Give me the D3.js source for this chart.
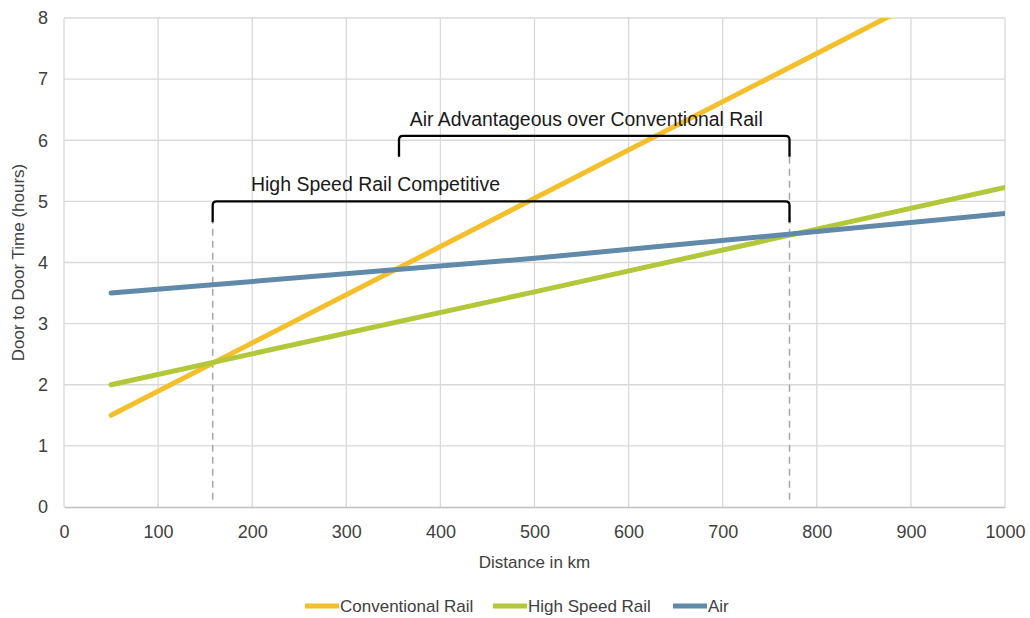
<!DOCTYPE html>
<html>
<head>
<meta charset="utf-8">
<script src="https://cdn.jsdelivr.net/npm/d3@7"></script>
<style>
  body { margin: 0; background: #fff; }
  svg text { font-family: "Liberation Sans", Arial, sans-serif; fill: #404040; }
</style>
</head>
<body>
<div id="chart"></div>
<script>
// data
const distance = [50, 500, 1000];
const conventionalRail = [1.5, 5.05, 9.0];
const highSpeedRail = [2.0, 3.52, 5.23];
const air = [3.5, 4.07, 4.8];

const seriesNames = ["Conventional Rail", "High Speed Rail", "Air"];
const seriesValues = [conventionalRail, highSpeedRail, air];
const seriesColors = ["#F4BF2A", "#B3C73A", "#6089AA"];

const xTicks = [0, 100, 200, 300, 400, 500, 600, 700, 800, 900, 1000];
const yTicks = [0, 1, 2, 3, 4, 5, 6, 7, 8];

// annotation brackets
const bracketLabels = ["High Speed Rail Competitive", "Air Advantageous over Conventional Rail"];
const bracketStart = [158, 356];
const bracketEnd = [771, 771];
const bracketLevel = [5.0, 6.07];
const bracketLabelAt = [331, 555];
const dashedAt = [158, 771];

var width = 1030, height = 618;
var margin = {top: 18, right: 25, bottom: 111, left: 64};

var svg = d3.select("#chart")
  .append("svg")
    .attr("width", width)
    .attr("height", height);

var x = d3.scaleLinear()
  .domain([0, 1000])
  .range([margin.left, width - margin.right]);

var y = d3.scaleLinear()
  .domain([0, 8])
  .range([height - margin.bottom, margin.top]);

// gridlines
svg.append("g")
  .selectAll("line")
  .data(yTicks.slice(1))
  .enter()
  .append("line")
    .attr("x1", x(0)).attr("x2", x(1000))
    .attr("y1", d => y(d)).attr("y2", d => y(d))
    .style("stroke", "#d9d9d9").style("stroke-width", 1.3);

svg.append("g")
  .selectAll("line")
  .data(xTicks)
  .enter()
  .append("line")
    .attr("x1", d => x(d)).attr("x2", d => x(d))
    .attr("y1", y(0)).attr("y2", y(8))
    .style("stroke", "#d9d9d9").style("stroke-width", 1.3);

// X axis
var xAxis = svg.append("g")
  .attr("transform", "translate(0," + y(0) + ")")
  .call(d3.axisBottom(x).tickValues(xTicks).tickFormat(d3.format("d")).tickSize(0).tickPadding(18));
xAxis.select(".domain").style("stroke", "#bfbfbf").style("stroke-width", 1.3);
xAxis.selectAll("text").style("font-size", "18px").style("fill", "#404040")
  .style("font-family", "'Liberation Sans', Arial, sans-serif");

// Y axis
var yAxis = svg.append("g")
  .attr("transform", "translate(" + x(0) + ",0)")
  .call(d3.axisLeft(y).tickValues(yTicks).tickSize(0).tickPadding(16));
yAxis.select(".domain").remove();
yAxis.selectAll("text").style("font-size", "18px").style("fill", "#404040")
  .style("font-family", "'Liberation Sans', Arial, sans-serif");

// axis titles
svg.append("text")
  .attr("x", (x(0) + x(1000)) / 2)
  .attr("y", 568)
  .attr("text-anchor", "middle")
  .style("font-size", "17px")
  .text("Distance in km");

svg.append("text")
  .attr("transform", "translate(24," + y(4) + ") rotate(-90)")
  .attr("text-anchor", "middle")
  .style("font-size", "17px")
  .text("Door to Door Time (hours)");

// dashed guides
svg.append("g")
  .selectAll("line")
  .data(dashedAt)
  .enter()
  .append("line")
    .attr("x1", d => x(d)).attr("x2", d => x(d))
    .attr("y1", y(0.12))
    .attr("y2", (d, i) => y(bracketLevel[i] - 0.34))
    .style("stroke", "#a6a6a6")
    .style("stroke-width", 1.5)
    .style("stroke-dasharray", "7,5");

// clip for lines
svg.append("clipPath").attr("id", "plot-clip")
  .append("rect")
    .attr("x", x(0)).attr("y", y(8))
    .attr("width", x(1000) - x(0)).attr("height", y(0) - y(8));

var line = d3.line()
  .x(d => x(d[0]))
  .y(d => y(d[1]));

svg.append("g")
  .attr("clip-path", "url(#plot-clip)")
  .selectAll("path")
  .data(seriesValues)
  .enter()
  .append("path")
    .attr("d", vals => line(distance.map((d, i) => [d, vals[i]])))
    .style("fill", "none")
    .style("stroke", (d, i) => seriesColors[i])
    .style("stroke-width", 5)
    .style("stroke-linecap", "round")
    .style("stroke-linejoin", "round");

// brackets
function bracketPath(i) {
  var x0 = x(bracketStart[i]), x1 = x(bracketEnd[i]);
  var top = y(bracketLevel[i]), bot = y(bracketLevel[i] - 0.34);
  var r = 4;
  return "M" + x0 + "," + bot + " L" + x0 + "," + (top + r) +
    " Q" + x0 + "," + top + " " + (x0 + r) + "," + top +
    " L" + (x1 - r) + "," + top +
    " Q" + x1 + "," + top + " " + x1 + "," + (top + r) +
    " L" + x1 + "," + bot;
}

svg.append("g")
  .selectAll("path")
  .data(bracketLabels)
  .enter()
  .append("path")
    .attr("d", (d, i) => bracketPath(i))
    .style("fill", "none")
    .style("stroke", "#000")
    .style("stroke-width", 2.3);

var labelWidths = [249, 353];
svg.append("g")
  .selectAll("text")
  .data(bracketLabels)
  .enter()
  .append("text")
    .attr("x", (d, i) => x(bracketLabelAt[i]) - labelWidths[i] / 2)
    .attr("y", (d, i) => y(bracketLevel[i]) - 10)
    .attr("textLength", (d, i) => labelWidths[i])
    .attr("lengthAdjust", "spacingAndGlyphs")
    .style("font-size", "20px")
    .style("fill", "#1a1a1a")
    .text(d => d);

// legend
var legendX = [305, 493, 673];
var legend = svg.append("g")
  .selectAll("g")
  .data(seriesNames)
  .enter()
  .append("g")
    .attr("transform", (d, i) => "translate(" + legendX[i] + ",606)");

legend.append("line")
  .attr("x1", 0).attr("x2", 34)
  .attr("y1", 0).attr("y2", 0)
  .style("stroke", (d, i) => seriesColors[i])
  .style("stroke-width", 5);

legend.append("text")
  .attr("x", 35)
  .attr("y", 6)
  .style("font-size", "17px")
  .text(d => d);
</script>
</body>
</html>
